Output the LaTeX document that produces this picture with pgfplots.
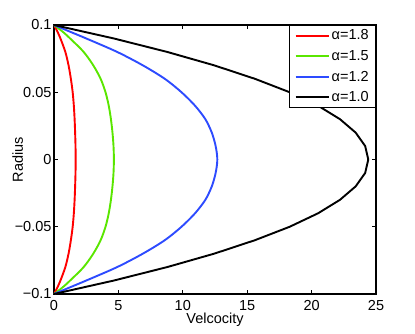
\documentclass[border=0pt]{standalone}
\usepackage{fontspec}
\setmainfont{Liberation Sans}
\usepackage{pgfplots}
\pgfplotsset{compat=1.18}
\definecolor{mgreen}{RGB}{90,230,0}
\definecolor{mblue}{RGB}{45,75,255}
\begin{document}
\begin{tikzpicture}
\useasboundingbox (-54pt,-39pt) rectangle (361pt,294pt);
\begin{axis}[
    at={(0,0)}, anchor=south west,
    scale only axis, width=322pt, height=269pt,
    xmin=0, xmax=25, ymin=-0.1, ymax=0.1,
    xtick={0,5,...,25},
    ytick={-0.1,-0.05,0,0.05,0.1},
    yticklabels={−0.1,−0.05,0,0.05,0.1},
    font=\fontsize{14.5}{17}\selectfont,
    /pgf/number format/assume math mode=true,
    axis line style={line width=1.3pt},
    tick style={line width=0.7pt, black},
    major tick length=4pt,
    xticklabel style={yshift=-3pt},
    yticklabel style={xshift=1pt},
    xlabel={Velcocity}, ylabel={Radius},
    xlabel style={yshift=5pt},
    ylabel style={yshift=-15pt},
    legend style={at={(1,1)}, anchor=north east, draw=black, line width=0.6pt,
        font=\fontsize{14.5}{17}\selectfont, row sep=5pt, inner xsep=5pt, inner ysep=2.5pt},
    legend cell align=left,
    legend image code/.code={\draw[#1, line width=2pt] (0pt,0pt) -- (33pt,0pt);},
    every axis plot/.append style={line width=1.9pt, line join=round},
]
\addplot[red, smooth, tension=0.5] coordinates {
(0,-0.1)(0.27,-0.095)(0.5,-0.09)(0.88,-0.08)(1.13,-0.07)(1.31,-0.06)(1.45,-0.05)(1.54,-0.04)(1.6,-0.03)(1.64,-0.02)(1.67,-0.01)(1.68,0)
(1.67,0.01)(1.64,0.02)(1.6,0.03)(1.54,0.04)(1.45,0.05)(1.31,0.06)(1.13,0.07)(0.88,0.08)(0.5,0.09)(0.27,0.095)(0,0.1)
};
\addlegendentry{α=1.8}
\addplot[mgreen, smooth, tension=0.5] coordinates {
(0,-0.1)(0.68,-0.095)(1.25,-0.09)(2.3,-0.08)(3.05,-0.07)(3.62,-0.06)(4.0,-0.05)(4.25,-0.04)(4.42,-0.03)(4.54,-0.02)(4.62,-0.01)(4.65,0)
(4.62,0.01)(4.54,0.02)(4.42,0.03)(4.25,0.04)(4.0,0.05)(3.62,0.06)(3.05,0.07)(2.3,0.08)(1.25,0.09)(0.68,0.095)(0,0.1)
};
\addlegendentry{α=1.5}
\addplot[mblue, smooth, tension=0.5] coordinates {
(0,-0.1)(1.25,-0.095)(2.5,-0.09)(4.9,-0.08)(6.9,-0.07)(8.6,-0.06)(9.9,-0.05)(10.95,-0.04)(11.75,-0.03)(12.25,-0.02)(12.55,-0.01)(12.68,0)
(12.55,0.01)(12.25,0.02)(11.75,0.03)(10.95,0.04)(9.9,0.05)(8.6,0.06)(6.9,0.07)(4.9,0.08)(2.5,0.09)(1.25,0.095)(0,0.1)
};
\addlegendentry{α=1.2}
\addplot[black] coordinates {
(0,-0.1)(4.64,-0.09)(8.78,-0.08)(12.44,-0.07)(15.6,-0.06)(18.3,-0.05)(20.5,-0.04)(22.2,-0.03)(23.42,-0.02)(24.16,-0.01)(24.4,0)
(24.16,0.01)(23.42,0.02)(22.2,0.03)(20.5,0.04)(18.3,0.05)(15.6,0.06)(12.44,0.07)(8.78,0.08)(4.64,0.09)(0,0.1)
};
\addlegendentry{α=1.0}
\end{axis}
\end{tikzpicture}
\end{document}
